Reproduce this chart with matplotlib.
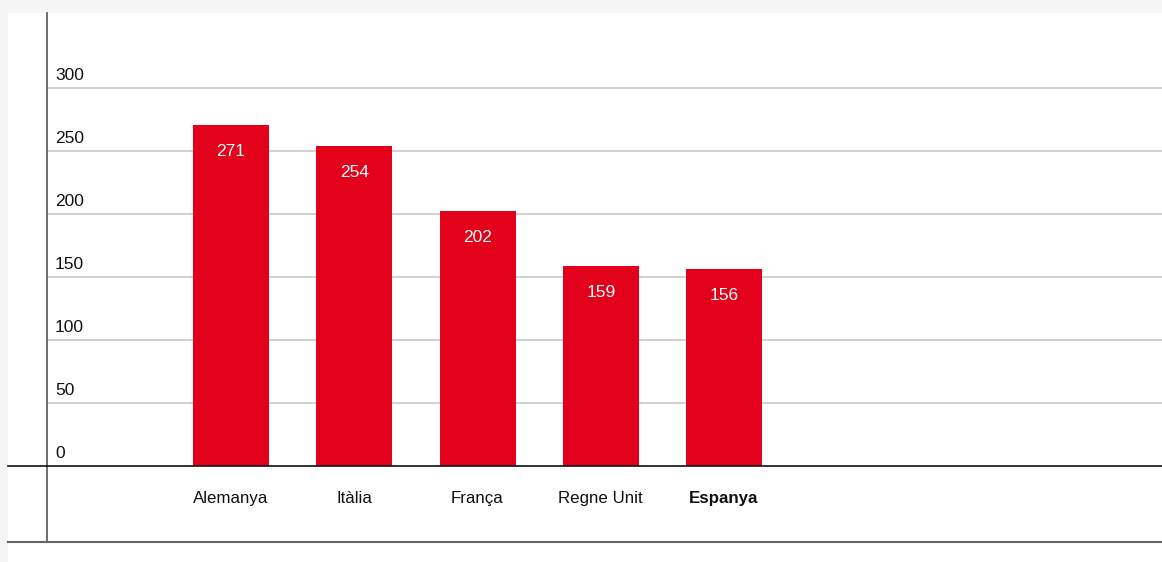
import matplotlib.pyplot as plt
from matplotlib.lines import Line2D
from matplotlib.patches import Rectangle

countries = ["Alemanya", "Itàlia", "França", "Regne Unit", "Espanya"]
values = [271, 254, 202, 159, 156]
yticks = [0, 50, 100, 150, 200, 250, 300]

RED = "#e2001a"
W, H = 1162, 562

plt.rcParams['font.family'] = ['Liberation Sans', 'DejaVu Sans']

fig = plt.figure(figsize=(W / 100, H / 100), dpi=100, facecolor="#f5f5f5")

# white panel behind the chart
fig.patches.append(Rectangle((8 / W, 0), 1 - 8 / W, (H - 13) / H,
                             transform=fig.transFigure, facecolor="white",
                             edgecolor="none", zorder=-5))

ax = fig.add_axes([47 / W, (H - 542) / H, (W - 47) / W, (542 - 13) / H])
ax.set_facecolor("none")
ax.set_zorder(1)

px = 1.26  # pixels per unit
ax.set_ylim((466 - 542) / px, (466 - 13) / px)
ax.set_xlim((47 - 231) / 123.25, (1162 - 231) / 123.25)

for s in ["top", "right", "bottom"]:
    ax.spines[s].set_visible(False)
ax.spines["left"].set_color("#555555")
ax.spines["left"].set_linewidth(1.2)
ax.set_xticks([])
ax.set_yticks([])

for t in yticks[1:]:
    ax.axhline(t, color="#c8c8c8", lw=1.2, zorder=1)

x = list(range(len(countries)))
ax.bar(x, values, width=76 / 123.25, color=RED, zorder=2)

for i, v in zip(x, values):
    ax.text(i, v - 21, str(v), color="white", ha="center", va="center",
            fontsize=12.5, zorder=3)

for i, c in zip(x, countries):
    ax.text(i, -29.5, c, ha="center", va="baseline", fontsize=12.2,
            fontweight="bold" if c == "Espanya" else "normal", color="#111111")

for t in yticks:
    ax.text((55 - 231) / 123.25, t + 6, str(t), ha="left", va="baseline",
            fontsize=12.5, color="#111111")

# baseline and bottom rule across the panel
fig.lines.append(Line2D([8 / W, 1], [(H - 466) / H] * 2, transform=fig.transFigure,
                        color="#111111", lw=1.2, zorder=4))
fig.lines.append(Line2D([8 / W, 1], [(H - 542) / H] * 2, transform=fig.transFigure,
                        color="#666666", lw=1.5, zorder=4))

fig.savefig("out.png", dpi=100, facecolor=fig.get_facecolor())
